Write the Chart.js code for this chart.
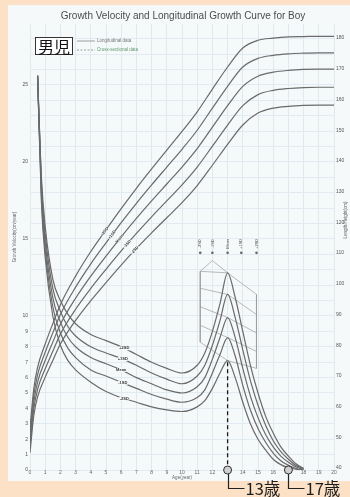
<!DOCTYPE html>
<html>
<head>
<meta charset="utf-8">
<script src="https://cdn.jsdelivr.net/npm/chart.js@4.4.0/dist/chart.umd.min.js"></script>
<style>
  html, body { margin: 0; padding: 0; background: #fce1c6; }
  #wrap { width: 350px; height: 497px; }
</style>
</head>
<body>
<div id="wrap"><canvas id="growthChart" width="350" height="497"></canvas></div>
<script>
// --- data ---
const ageTicks = [0, 1, 2, 3, 4, 5, 6, 7, 8, 9, 10, 11, 12, 13, 14, 15, 16, 17, 18, 19, 20];
const velocityTickLabels = [0, 1, 2, 3, 4, 5, 6, 7, 8, 9, 10, 15, 20, 25];
const heightTicks = [40, 50, 60, 70, 80, 90, 100, 110, 120, 130, 140, 150, 160, 170, 180];
const curveLabels = ['+2SD', '+1SD', 'Mean', '-1SD', '-2SD'];

// height curves (cm)
const heightAges = [0, 0.25, 0.5, 1, 1.5, 2, 3, 4, 5, 6, 7, 8, 9, 10, 11, 12, 13, 14, 15, 16, 17, 18, 19, 20];
const heightPlus2 = [53.0, 65.9, 72.8, 80.4, 87.0, 93.2, 102.5, 110.5, 117.6, 124.5, 131.1, 137.4, 143.5, 149.6, 156.0, 163.4, 170.6, 176.8, 179.3, 180.0, 180.4, 180.5, 180.6, 180.6];
const heightPlus1 = [51.0, 63.7, 70.4, 77.7, 84.0, 90.0, 98.9, 106.5, 113.3, 119.9, 126.2, 132.2, 138.0, 143.8, 150.0, 157.2, 164.3, 170.6, 173.4, 174.4, 174.9, 175.1, 175.2, 175.2];
const heightMean = [49.0, 61.5, 68.0, 75.0, 81.0, 86.8, 95.3, 102.5, 109.0, 115.3, 121.3, 127.0, 132.5, 138.0, 144.0, 151.0, 158.0, 164.3, 167.6, 168.9, 169.5, 169.8, 169.9, 169.9];
const heightMinus1 = [47.0, 59.3, 65.6, 72.3, 78.0, 83.6, 91.7, 98.5, 104.7, 110.7, 116.4, 121.8, 127.0, 132.2, 138.0, 144.8, 151.7, 158.0, 161.6, 163.0, 163.6, 163.9, 164.0, 164.0];
const heightMinus2 = [45.0, 57.1, 63.2, 69.6, 75.0, 80.4, 88.1, 94.5, 100.4, 106.1, 111.5, 116.6, 121.5, 126.4, 132.0, 138.6, 145.4, 151.7, 155.6, 157.2, 157.8, 158.1, 158.2, 158.2];

// growth velocity curves (cm/year)
const velocityAges = [0.5, 0.75, 1, 1.5, 2, 2.5, 3, 4, 5, 6, 7, 8, 9, 10, 11, 11.5, 12, 12.5, 13, 13.5, 14, 14.5, 15, 15.5, 16, 16.5, 17, 17.5, 18];
const velocityPlus2 = [25.6, 19.0, 15.8, 12.4, 11.0, 10.1, 9.5, 8.8, 8.4, 8.0, 7.5, 7.0, 6.6, 6.3, 6.8, 7.6, 9.0, 10.8, 12.8, 11.2, 9.0, 6.8, 5.0, 3.5, 2.4, 1.5, 0.9, 0.4, 0.1];
const velocityPlus1 = [25.6, 18.6, 15.3, 11.8, 10.3, 9.3, 8.7, 8.0, 7.6, 7.25, 6.8, 6.3, 5.9, 5.6, 6.1, 6.8, 8.1, 9.7, 11.4, 9.9, 7.8, 5.8, 4.2, 2.9, 1.9, 1.2, 0.7, 0.3, 0.1];
const velocityMean = [25.6, 18.2, 14.8, 11.2, 9.6, 8.6, 8.0, 7.3, 6.9, 6.5, 6.0, 5.6, 5.2, 5.0, 5.4, 6.0, 7.2, 8.6, 9.9, 8.6, 6.6, 4.8, 3.4, 2.3, 1.5, 0.9, 0.5, 0.2, 0.05];
const velocityMinus1 = [25.6, 17.8, 14.3, 10.6, 8.9, 7.9, 7.3, 6.5, 6.1, 5.7, 5.3, 4.9, 4.6, 4.4, 4.7, 5.2, 6.3, 7.5, 8.6, 7.4, 5.5, 3.9, 2.7, 1.8, 1.1, 0.6, 0.3, 0.1, 0];
const velocityMinus2 = [25.6, 17.4, 13.8, 10.0, 8.1, 7.1, 6.5, 5.7, 5.1, 4.7, 4.4, 4.1, 3.9, 3.8, 4.1, 4.5, 5.3, 6.3, 7.1, 6.0, 4.4, 3.0, 2.0, 1.3, 0.7, 0.35, 0.15, 0.05, 0];

// peak height velocity timing diagram
const phvAges = [11.2, 12.0, 13.0, 13.9, 14.9];
const phvDotLevel = 14.1;
const fanLeft = [12.9, 11.8, 10.6, 9.4, 8.3];
const fanPeak = [12.8, 11.4, 9.9, 8.6, 7.1];
const fanRight = [11.4, 10.1, 8.9, 7.7, 6.6];

// marked ages
const markedAges = [13, 17];
const markedText = ['13歳', '17歳'];
const dashedFrom = 7.0;

const heightSeries = [heightPlus2, heightPlus1, heightMean, heightMinus1, heightMinus2];
const velocitySeries = [velocityPlus2, velocityPlus1, velocityMean, velocityMinus1, velocityMinus2];

function toPoints(xs, ys) {
    return xs.map((x, i) => ({ x: x, y: ys[i] }));
}

// only used to place the small labels on the curves
function valueAt(xs, ys, a) {
    for (let i = 1; i < xs.length; i++) {
        if (a <= xs[i]) {
            const t = (a - xs[i - 1]) / (xs[i] - xs[i - 1]);
            return ys[i - 1] + t * (ys[i] - ys[i - 1]);
        }
    }
    return ys[ys.length - 1];
}

const curveStyle = {
    borderColor: '#6a6a6a',
    borderWidth: 1.2,
    pointRadius: 0,
    fill: false,
    cubicInterpolationMode: 'monotone'
};
const thinStyle = {
    borderColor: '#9c9c9c',
    borderWidth: 0.7,
    pointRadius: 0,
    fill: false,
    tension: 0
};

const datasets = [];

// circles on the age axis
datasets.push({
    label: 'marks',
    data: markedAges.map(a => ({ x: a, y: 0 })),
    yAxisID: 'yV',
    showLine: false,
    pointRadius: 4,
    pointBackgroundColor: '#cfcfcf',
    pointBorderColor: '#333',
    pointBorderWidth: 1,
    clip: false
});

// dashed line at 13 years
datasets.push({
    label: 'dash13',
    data: [{ x: markedAges[0], y: dashedFrom }, { x: markedAges[0], y: 0.3 }],
    yAxisID: 'yV',
    borderColor: '#1a1a1a',
    borderWidth: 1.3,
    borderDash: [4, 3],
    pointRadius: 0,
    tension: 0
});

heightSeries.forEach((s, i) => {
    datasets.push(Object.assign({ label: 'height ' + curveLabels[i], data: toPoints(heightAges, s), yAxisID: 'yH' }, curveStyle));
});
velocitySeries.forEach((s, i) => {
    datasets.push(Object.assign({ label: 'velocity ' + curveLabels[i], data: toPoints(velocityAges, s), yAxisID: 'yV' }, curveStyle));
});

// fan lines of the PHV diagram
fanPeak.forEach((p, i) => {
    datasets.push(Object.assign({
        label: 'fan ' + i,
        data: [{ x: phvAges[0], y: fanLeft[i] }, { x: phvAges[2], y: p }, { x: phvAges[4], y: fanRight[i] }],
        yAxisID: 'yV'
    }, thinStyle));
});
datasets.push(Object.assign({
    label: 'left bar',
    data: [{ x: phvAges[0], y: fanLeft[0] }, { x: phvAges[0], y: fanLeft[4] }],
    yAxisID: 'yV'
}, thinStyle));
datasets.push(Object.assign({
    label: 'right bar',
    data: [{ x: phvAges[4], y: fanRight[0] }, { x: phvAges[4], y: fanRight[4] }],
    yAxisID: 'yV'
}, thinStyle));
datasets.push(Object.assign({
    label: 'chevron',
    data: [{ x: phvAges[0], y: fanLeft[0] }, { x: phvAges[1], y: 13.6 }, { x: phvAges[2], y: fanPeak[0] }],
    yAxisID: 'yV'
}, thinStyle));
datasets.push({
    label: 'phv dots',
    data: phvAges.map(a => ({ x: a, y: phvDotLevel })),
    yAxisID: 'yV',
    showLine: false,
    pointRadius: 1.3,
    pointBackgroundColor: '#666',
    pointBorderWidth: 0
});

const decorPlugin = {
    id: 'decor',
    beforeDraw(chart) {
        const ctx = chart.ctx;
        ctx.save();
        ctx.fillStyle = '#f6f9fa';
        ctx.fillRect(8, 5, 342, 476);
        ctx.restore();
    },
    afterDraw(chart) {
        const { ctx, scales } = chart;
        const x = scales.x, yV = scales.yV, yH = scales.yH;
        ctx.save();

        // title
        ctx.fillStyle = '#4c4c4c';
        ctx.font = '10px "Liberation Sans"';
        ctx.textAlign = 'center';
        ctx.textBaseline = 'middle';
        ctx.fillText('Growth Velocity and Longitudinal Growth Curve for Boy', 183, 16);

        // legend
        ctx.lineWidth = 0.8;
        ctx.strokeStyle = '#888';
        ctx.beginPath(); ctx.moveTo(77, 41); ctx.lineTo(95, 41); ctx.stroke();
        ctx.setLineDash([2, 1.5]);
        ctx.beginPath(); ctx.moveTo(77, 50); ctx.lineTo(95, 50); ctx.stroke();
        ctx.setLineDash([]);
        ctx.font = '4.5px "Liberation Sans"';
        ctx.textAlign = 'left';
        ctx.fillStyle = '#777';
        ctx.fillText('Longitudinal data', 97, 41);
        ctx.fillStyle = '#5c9b6c';
        ctx.fillText('Cross-sectional data', 97, 50);

        // boy box
        ctx.fillStyle = '#ffffff';
        ctx.fillRect(35, 37, 38, 18);
        ctx.strokeStyle = '#333';
        ctx.lineWidth = 1;
        ctx.strokeRect(35.5, 37.5, 37, 17);
        ctx.fillStyle = '#111';
        ctx.font = '16px "Noto Sans CJK JP"';
        ctx.textAlign = 'center';
        ctx.fillText('男児', 54, 46.5);

        // axis titles
        ctx.font = '4.5px "Liberation Sans"';
        ctx.fillStyle = '#666';
        ctx.save();
        ctx.translate(15, 237);
        ctx.rotate(-Math.PI / 2);
        ctx.fillText('Growth Velocity(cm/year)', 0, 0);
        ctx.restore();
        ctx.save();
        ctx.translate(346, 220);
        ctx.rotate(-Math.PI / 2);
        ctx.fillText('Length/Height(cm)', 0, 0);
        ctx.restore();
        ctx.fillText('Age(year)', (x.left + x.right) / 2, 478);

        // labels on curves
        const hAges = [4.9, 5.4, 5.9, 6.4, 6.9];
        heightSeries.forEach((s, i) => {
            const a = hAges[i];
            const px = x.getPixelForValue(a);
            const py = yH.getPixelForValue(valueAt(heightAges, s, a));
            const py2 = yH.getPixelForValue(valueAt(heightAges, s, a + 0.3));
            const px2 = x.getPixelForValue(a + 0.3);
            const ang = Math.atan2(py2 - py, px2 - px);
            ctx.save();
            ctx.translate(px, py);
            ctx.rotate(ang);
            ctx.fillStyle = '#f6f9fa';
            ctx.fillRect(-5, -2, 10, 4);
            ctx.fillStyle = '#333';
            ctx.font = 'bold 4px "Liberation Sans"';
            ctx.fillText(curveLabels[i], 0, 0);
            ctx.restore();
        });
        const vAges = [6.2, 6.1, 6.0, 6.1, 6.2];
        velocitySeries.forEach((s, i) => {
            const a = vAges[i];
            const px = x.getPixelForValue(a);
            const py = yV.getPixelForValue(valueAt(velocityAges, s, a));
            ctx.fillStyle = '#f6f9fa';
            ctx.fillRect(px - 5, py - 2, 10, 4);
            ctx.fillStyle = '#333';
            ctx.font = 'bold 4px "Liberation Sans"';
            ctx.fillText(curveLabels[i], px, py);
        });

        // PHV labels
        ctx.font = '4px "Liberation Sans"';
        ctx.fillStyle = '#555';
        phvAges.forEach((a, i) => {
            const px = x.getPixelForValue(a);
            const py = yV.getPixelForValue(phvDotLevel) - 9;
            ctx.save();
            ctx.translate(px, py);
            ctx.rotate(-Math.PI / 2);
            ctx.fillText(curveLabels[4 - i], 0, 0);
            ctx.restore();
        });

        // brackets and age text below the chart
        ctx.strokeStyle = '#222';
        ctx.lineWidth = 1.2;
        ctx.fillStyle = '#1d1d1d';
        ctx.font = '16.5px "Noto Sans CJK JP"';
        ctx.textAlign = 'left';
        markedAges.forEach((a, i) => {
            const px = Math.round(x.getPixelForValue(a)) + 0.5;
            const py0 = yV.getPixelForValue(0) + 4;
            ctx.beginPath();
            ctx.moveTo(px, py0);
            ctx.lineTo(px, 488.5);
            ctx.lineTo(px + 16, 488.5);
            ctx.stroke();
            ctx.fillText(markedText[i], px + 17, 489);
        });

        ctx.restore();
    }
};

new Chart(document.getElementById('growthChart').getContext('2d'), {
    type: 'line',
    data: { datasets: datasets },
    plugins: [decorPlugin],
    options: {
        responsive: false,
        animation: false,
        devicePixelRatio: 1,
        layout: { padding: { left: 8, right: 0, top: 24, bottom: 16 } },
        plugins: {
            legend: { display: false },
            tooltip: { enabled: false }
        },
        scales: {
            x: {
                type: 'linear',
                min: 0,
                max: 20,
                afterFit(s) { s.height = 11; },
                afterBuildTicks(s) { s.ticks = ageTicks.map(v => ({ value: v })); },
                ticks: { font: { size: 5 }, color: '#666', padding: 0, maxRotation: 0, autoSkip: false },
                grid: { color: '#dfe9f0', drawTicks: false },
                border: { display: false }
            },
            yV: {
                type: 'linear',
                position: 'left',
                min: 0,
                max: 28.96,
                afterFit(s) { s.width = 22; },
                afterBuildTicks(s) {
                    const t = [];
                    for (let v = 0; v <= 28; v++) t.push({ value: v });
                    s.ticks = t;
                },
                ticks: {
                    font: { size: 5 },
                    color: '#555',
                    padding: 2,
                    autoSkip: false,
                    callback: v => velocityTickLabels.includes(v) ? v : ''
                },
                grid: { color: '#e2ebf1', drawTicks: false },
                border: { display: false }
            },
            yH: {
                type: 'linear',
                position: 'right',
                min: 39.35,
                max: 184.6,
                afterFit(s) { s.width = 16; },
                afterBuildTicks(s) { s.ticks = heightTicks.map(v => ({ value: v })); },
                ticks: { font: { size: 5 }, color: '#555', padding: 2, autoSkip: false },
                grid: { display: false, drawTicks: false },
                border: { display: false }
            }
        }
    }
});
</script>
</body>
</html>
